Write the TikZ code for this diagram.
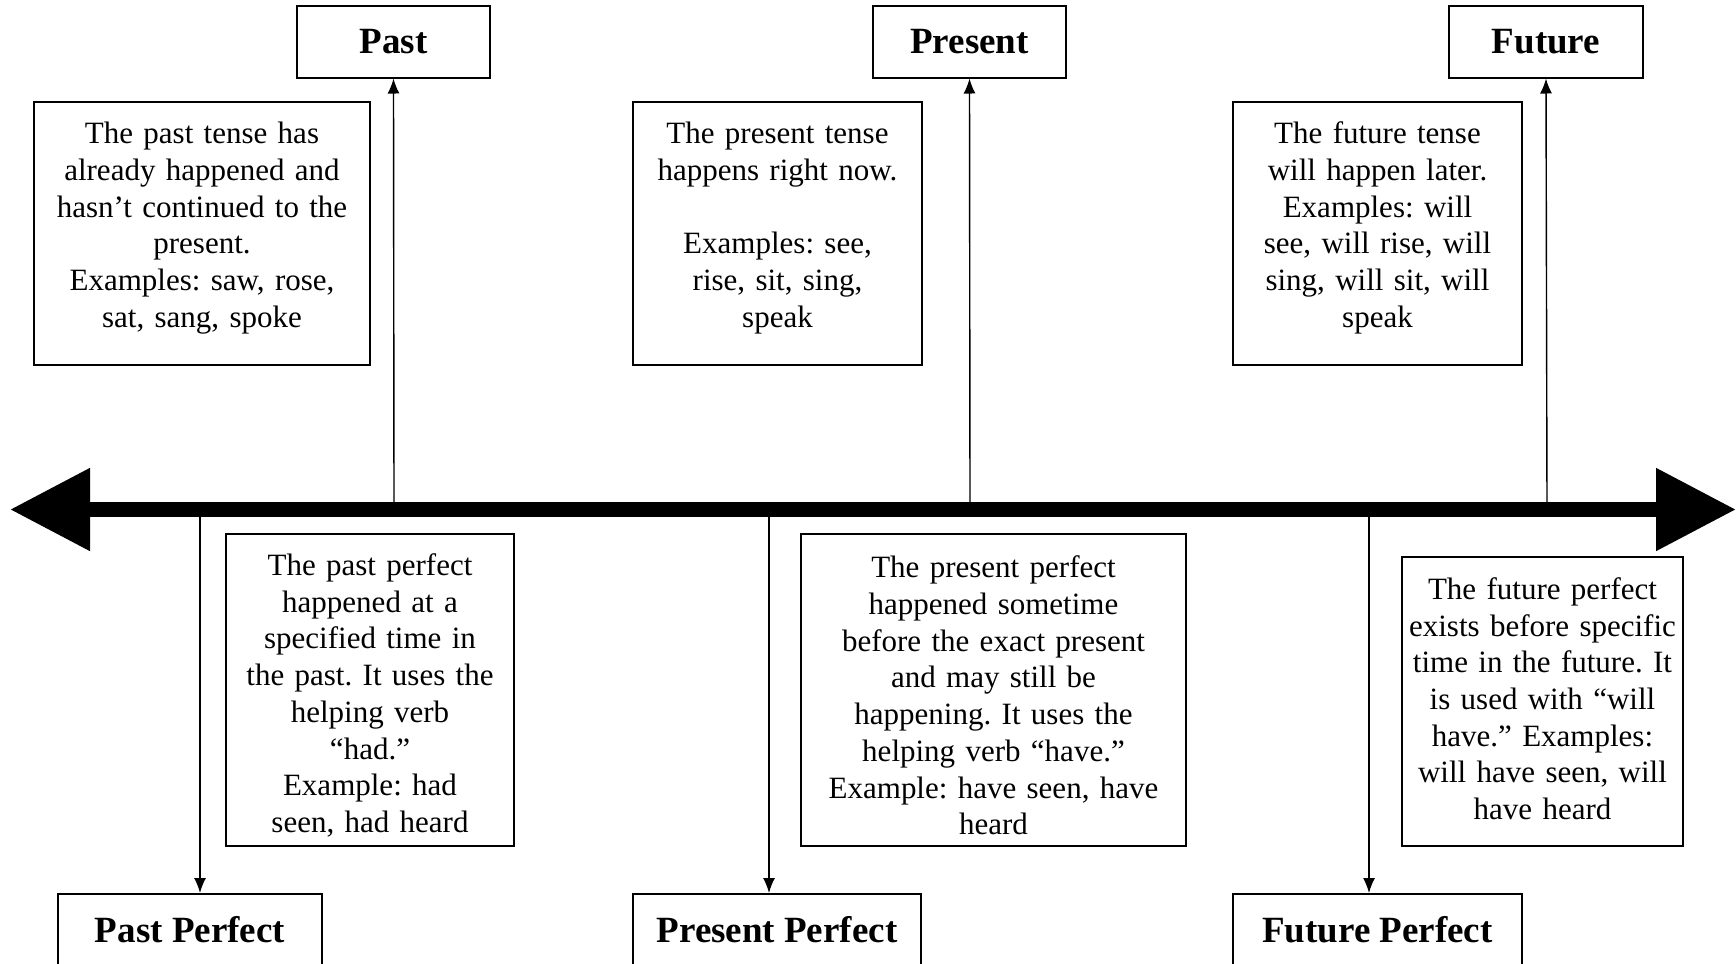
\documentclass[tikz,border=0pt]{standalone}
\usepackage{fontspec}
\setmainfont{Liberation Serif}
\usepackage{tikz}
\usetikzlibrary{arrows.meta,positioning,calc}
\newcommand{\bodysize}{\fontsize{15.5}{18.35}\selectfont\frenchspacing}
\newcommand{\headsize}{\fontsize{18.5}{22}\selectfont\bfseries}

\begin{document}
\begin{tikzpicture}[x=0.5pt,y=-0.5pt,
    tense/.style={draw,line width=1pt,inner sep=0pt,minimum height=36pt,font=\headsize},
    info/.style={draw,line width=1pt,inner xsep=0pt,inner ysep=0pt,align=center,font=\bodysize},
    conn/.style={line width=0.7pt,-{Latex[length=7.5pt,width=6pt]}},
    timeline/.style={line width=7.5pt,{Triangle[length=40pt,width=39.5pt]}-{Triangle[length=40pt,width=39.5pt]}}]
    \useasboundingbox (0,0) rectangle (1736,964);

    % Timeline
    \coordinate (tl) at (10,509.5);
    \coordinate (tr) at (1736,509.5);
    \draw[timeline] (tl) -- (tr);

    % Upper tenses
    \node[tense,minimum width=96.5pt] (past) at (393.5,41.5) {Past};
    \node[tense,minimum width=96.5pt] (present) at (969.5,41.5) {Present};
    \node[tense,minimum width=97pt] (future) at (1546,41.5) {Future};

    % Lower tenses
    \node[tense,minimum width=132pt] (pastperf) at (190,930) {Past Perfect};
    \node[tense,minimum width=144pt] (presperf) at (777,930) {Present Perfect};
    \node[tense,minimum width=144.5pt] (futperf) at (1377.5,930) {Future Perfect};

    % Upper explanations
    \node[info,text width=168pt,minimum height=131.5pt] (pasttxt) at (202,233.5)
        {The past tense has\\ already happened and\\ hasn’t continued to the\\ present.\\ Examples: saw, rose,\\ sat, sang, spoke\par\kern5.5pt};
    \node[info,text width=144.5pt,minimum height=131.5pt] (prestxt) at (777.5,233.5)
        {The present tense\\ happens right now.\\[18.35pt] Examples: see,\\ rise, sit, sing,\\ speak\par\kern5.5pt};
    \node[info,text width=144.5pt,minimum height=131.5pt] (futtxt) at (1377.5,233.5)
        {The future tense\\ will happen later.\\ Examples: will\\ see, will rise, will\\ sing, will sit, will\\ speak\par\kern5.5pt};

    % Lower explanations
    \node[info,text width=144pt,minimum height=156pt] (pastperftxt) at (370,690)
        {The past perfect\\ happened at a\\ specified time in\\ the past. It uses the\\ helping verb\\ “had.”\\ Example: had\\ seen, had heard\par\kern-5.5pt};
    \node[info,text width=192.5pt,minimum height=156pt] (presperftxt) at (993.5,690)
        {The present perfect\\ happened sometime\\ before the exact present\\ and may still be\\ happening. It uses the\\ helping verb “have.”\\ Example: have seen, have\\ heard\par\kern-5.5pt};
    \node[info,text width=140.5pt,minimum height=144.5pt] (futperftxt) at (1542.5,701.5)
        {The future perfect\\ exists before specific\\ time in the future. It\\ is used with “will\\ have.” Examples:\\ will have seen, will\\ have heard\par\kern2.8pt};

    % Connectors
    \coordinate (pastpt) at (394,509.5);
    \coordinate (prespt) at (970,509.5);
    \coordinate (futpt) at (1547,509.5);
    \coordinate (pastperfpt) at (200,509.5);
    \coordinate (presperfpt) at (769,509.5);
    \coordinate (futperfpt) at (1369,509.5);
    \draw[conn] (pastpt) -- (past.south);
    \draw[conn] (prespt) -- (present.south);
    \draw[conn] (futpt) -- (future.south);
    \draw[conn] (pastperfpt) -- (pastperfpt |- pastperf.north);
    \draw[conn] (presperfpt) -- (presperfpt |- presperf.north);
    \draw[conn] (futperfpt) -- (futperfpt |- futperf.north);
\end{tikzpicture}
\end{document}
